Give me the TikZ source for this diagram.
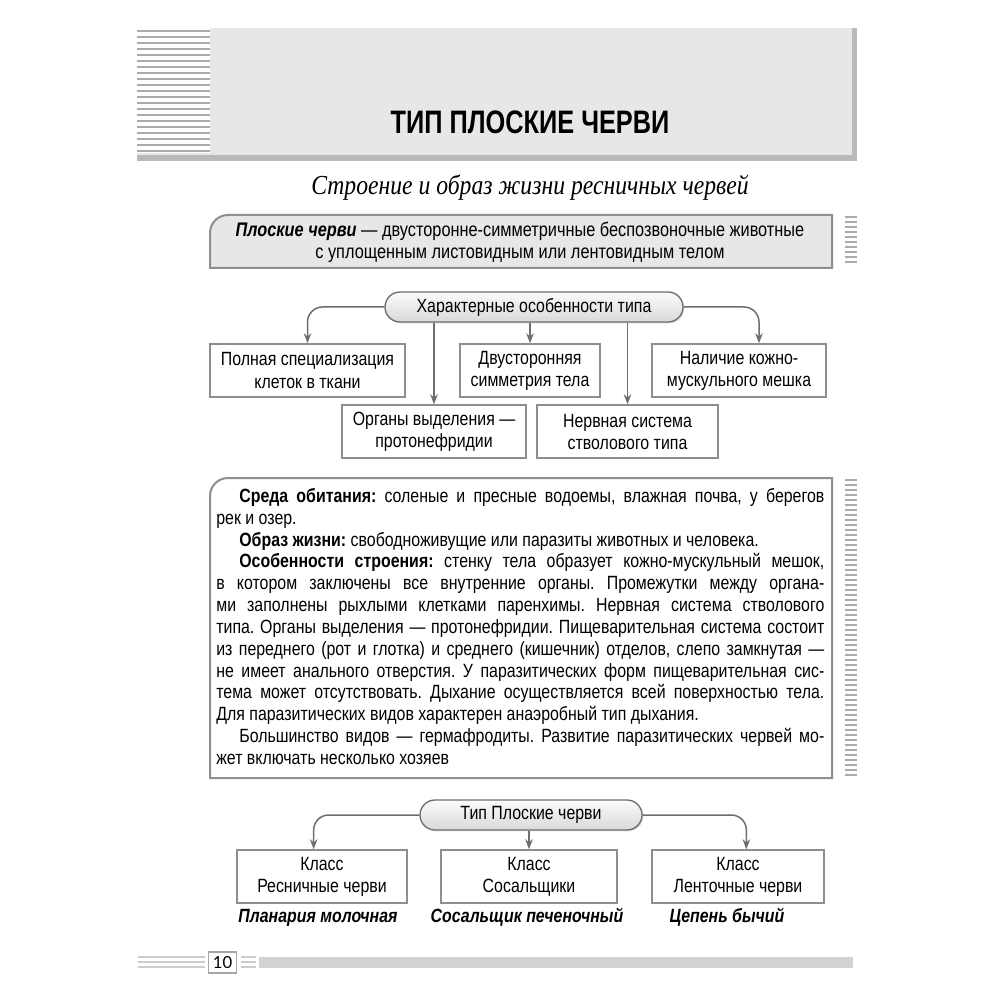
\documentclass[tikz,border=0pt]{standalone}
\usepackage{fontspec}
\setmainfont{Liberation Sans}[FakeStretch=0.83]
\newfontfamily\headfont{Liberation Sans}[FakeStretch=0.78]
\newfontfamily\subfont{Liberation Serif}[FakeStretch=0.86]
\newfontfamily\numfont{Lato}
\usetikzlibrary{calc}
\usetikzlibrary{arrows.meta}
\usetikzlibrary{shadows}
\usetikzlibrary{positioning}
\definecolor{panelgray}{HTML}{E7E7E7}
\definecolor{linegray}{HTML}{6E6E6E}
\definecolor{framegray}{HTML}{8E8E8E}
\definecolor{stripegray}{HTML}{ABABAB}
\tikzset{cellbox/.style={rectangle,draw=framegray,line width=0.9pt,fill=white,align=center,minimum height=53*0.6pt,inner sep=2pt,font=\fontsize{11.5}{13.2}\selectfont}}
\tikzset{rootpill/.style={rectangle,rounded corners=9pt,draw=linegray,line width=0.8pt,top color=gray!3,bottom color=gray!30,minimum height=30*0.6pt,drop shadow={opacity=0.25,shadow xshift=0.8pt,shadow yshift=-0.8pt},font=\fontsize{11.5}{13.2}\selectfont}}
\tikzset{link/.style={draw=linegray,line width=0.9pt,rounded corners=9pt,-{Stealth[length=6pt,width=4.5pt]}}}
\tikzset{species/.style={anchor=base,font=\bfseries\itshape\fontsize{11.5}{13.2}\selectfont}}

\begin{document}
\frenchspacing
\begin{tikzpicture}[x=0.6pt,y=-0.6pt]
\useasboundingbox[fill=white] (0,0) rectangle (1000,1000);
% header
\fill[panelgray] (137,28) rectangle (852,155);
\fill[white] (137,28) rectangle (210,153);
\foreach \y in {30,36,...,150} \fill[stripegray] (137,\y) rectangle (210,\y+2);
\fill[gray!55] (852,28) rectangle (857,161);
\fill[gray!55] (137,155) rectangle (857,161);
\node[font=\headfont\bfseries\fontsize{19.5}{22}\selectfont] (title) at (530,122) {ТИП ПЛОСКИЕ ЧЕРВИ};
\node[font=\subfont\itshape\fontsize{16.5}{19}\selectfont] (subtitle) at (530,188) {Строение и образ жизни ресничных червей};

% definition
\draw[framegray,line width=1.2pt,fill=panelgray] (210,268) -- (210,233) .. controls (210,223) and (218,215) .. (228,215) -- (832,215) -- (832,268) -- cycle;
\foreach \y in {217,222,...,265} \draw[stripegray,line width=0.9pt] (845,\y) -- (857,\y);
\node[align=center,font=\fontsize{11.8}{13.2}\selectfont] (defbox) at (520,242) {{\bfseries\itshape Плоские черви} --- двусторонне-симметричные беспозвоночные животные\\ с уплощенным листовидным или лентовидным телом};

% features
\node[rootpill,minimum width=298*0.6pt] (feat) at (534,307) {Характерные особенности типа};
\node[cellbox,minimum width=195*0.6pt] (tissue) at (307.5,370.5) {Полная специализация\\клеток в ткани};
\node[cellbox,minimum width=140*0.6pt] (symm) at (530,370.5) {Двусторонняя\\симметрия тела};
\node[cellbox,minimum width=174*0.6pt] (sac) at (739,370.5) {Наличие кожно-\\мускульного мешка};
\node[cellbox,minimum width=184*0.6pt] (excr) at (434,431.5) {Органы выделения ---\\протонефридии};
\node[cellbox,minimum width=181*0.6pt] (nerve) at (627.5,431.5) {Нервная система\\стволового типа};
\draw[link] (feat.west) -| (tissue.north);
\draw[link] (feat.east) -| ([xshift=12pt]sac.north);
\draw[link] (feat.south -| excr.north) -- (excr.north);
\draw[link] (feat.south -| symm.north) -- (symm.north);
\draw[link] (feat.south -| nerve.north) -- (nerve.north);

% text box
\draw[framegray,line width=1.2pt,fill=white] (210,778) -- (210,496) .. controls (210,486) and (218,478) .. (228,478) -- (832,478) -- (832,778) -- cycle;
\foreach \y in {480,485,...,776} \draw[stripegray,line width=0.9pt] (845,\y) -- (857,\y);
\node[anchor=north west,inner sep=0pt,text width=608*0.6pt,align=justify,font=\fontsize{11.5}{13.1}\selectfont] (info) at (216,488) {%
\hspace*{1.2em}{\bfseries Среда обитания:} соленые и пресные водоемы, влажная почва, у берегов\linebreak рек и озер.\par
\hspace*{1.2em}{\bfseries Образ жизни:} свободноживущие или паразиты животных и человека.\par
\hspace*{1.2em}{\bfseries Особенности строения:} стенку тела образует кожно-мускульный мешок,\linebreak в котором заключены все внутренние органы. Промежутки между органа-\linebreak ми заполнены рыхлыми клетками паренхимы. Нервная система стволового\linebreak типа. Органы выделения --- протонефридии. Пищеварительная система состоит\linebreak из переднего (рот и глотка) и среднего (кишечник) отделов, слепо замкнутая ---\linebreak не имеет анального отверстия. У паразитических форм пищеварительная сис-\linebreak тема может отсутствовать. Дыхание осуществляется всей поверхностью тела.\linebreak Для паразитических видов характерен анаэробный тип дыхания.\par
\hspace*{1.2em}Большинство видов --- гермафродиты. Развитие паразитических червей мо-\linebreak жет включать несколько хозяев};

% classes
\node[rootpill,minimum width=222*0.6pt] (phylum) at (531,815) {Тип Плоские черви};
\node[cellbox,minimum width=170*0.6pt] (turb) at (322,876.5) {Класс\\Ресничные черви};
\node[cellbox,minimum width=176*0.6pt] (trem) at (529,876.5) {Класс\\Сосальщики};
\node[cellbox,minimum width=172*0.6pt] (cest) at (738,876.5) {Класс\\Ленточные черви};
\draw[link] (phylum.west) -| ([xshift=-5pt]turb.north);
\draw[link] (phylum.south -| trem.north) -- (trem.north);
\draw[link] (phylum.east) -| ([xshift=5pt]cest.north);
\node[species] (planaria) at (318,922) {Планария молочная};
\node[species] (fluke) at (527,922) {Сосальщик печеночный};
\node[species] (tapeworm) at (727,922) {Цепень бычий};

% footer
\foreach \y in {957,962,967} \draw[gray!40,line width=1pt] (138,\y) -- (205,\y);
\node[draw=gray!70,line width=0.7pt,fill=white,inner sep=1.5pt,minimum width=28*0.6pt,minimum height=21*0.6pt,font=\numfont\fontsize{10}{12}\selectfont] (pagenum) at (222.5,962.5) {10};
\foreach \y in {957,962,967} \draw[gray!40,line width=1pt] (241,\y) -- (256,\y);
\fill[gray!35] (259,957) rectangle (853,968);
\end{tikzpicture}
\end{document}
